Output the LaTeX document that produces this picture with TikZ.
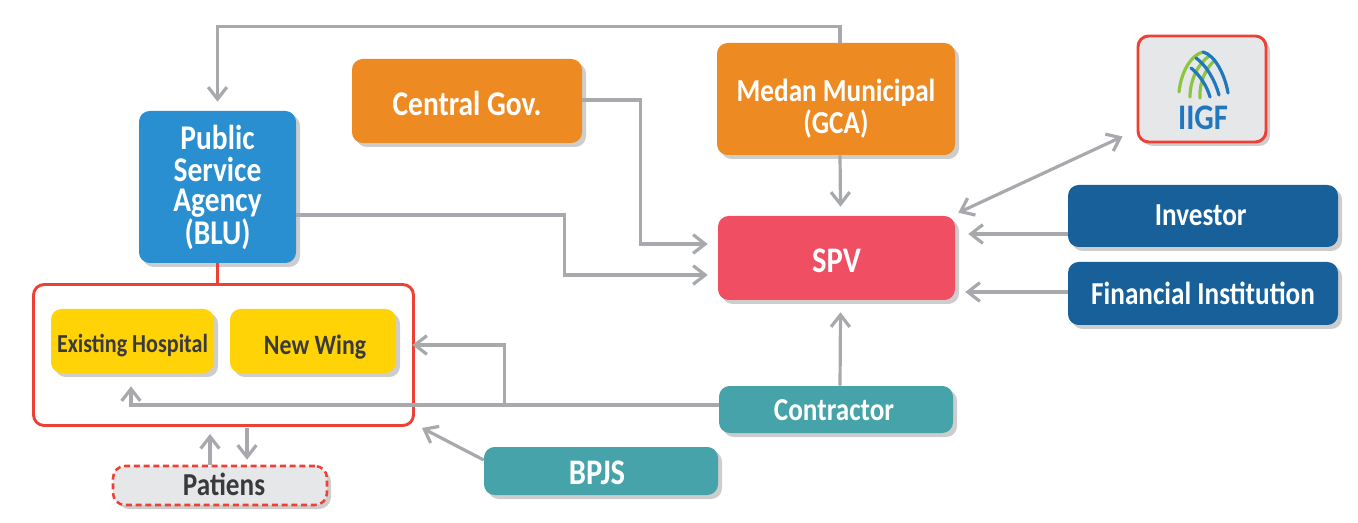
\documentclass[tikz,border=0pt]{standalone}
\usepackage{fontspec}
\setmainfont{Carlito}
\newfontfamily\condfont[FakeStretch=0.85]{Carlito}
\usetikzlibrary{arrows.meta,shadows,calc}
\definecolor{arrowgray}{HTML}{A7A9AC}
\definecolor{bluea}{HTML}{2A8FD0}
\definecolor{orangea}{HTML}{EE8A22}
\definecolor{pinka}{HTML}{F04E63}
\definecolor{navya}{HTML}{17609A}
\definecolor{teala}{HTML}{45A3A9}
\definecolor{yellowa}{HTML}{FFD305}
\definecolor{reda}{HTML}{EE4135}
\definecolor{palea}{HTML}{E6E7E9}
\definecolor{inka}{HTML}{3A3A3C}
\definecolor{greena}{HTML}{8CC540}
\definecolor{logoblue}{HTML}{1F78BE}
% #1 horizontal shift, #2 vertical drop from the box centre, #3 text lines
\newcommand{\lbl}[3]{\hspace*{#1}\raisebox{\dimexpr-#2-0.25em-2.6pt\relax}[0pt][0pt]{\begin{tabular}{@{}c@{}}#3\end{tabular}}}
\newcommand{\fsz}[2]{\fontsize{#1}{#2}\selectfont\condfont\bfseries}
\tikzset{
  softshadow/.style={drop shadow={shadow xshift=3pt,shadow yshift=-3pt,opacity=.28,fill=black!70}},
  boxa/.style={rectangle,rounded corners=8pt,inner sep=0pt,align=center,softshadow,text=white},
  flow/.style={draw=arrowgray,line width=2.4pt,-{Straight Barb[length=9pt,width=14pt,line width=2.4pt]}},
  flowboth/.style={draw=arrowgray,line width=2.4pt,{Straight Barb[length=9pt,width=14pt,line width=2.4pt]}-{Straight Barb[length=9pt,width=14pt,line width=2.4pt]}},
}
\begin{document}
\begin{tikzpicture}[x=0.75pt,y=-0.75pt]
\useasboundingbox (0,0) rectangle (1358,523);
\node[rectangle,rounded corners=8pt,draw=reda,line width=2.2pt,minimum width=380*0.75pt,minimum height=141*0.75pt,inner sep=0pt] (group) at (223.5,355) {};
\node[boxa,fill=bluea,minimum width=157*0.75pt,minimum height=152*0.75pt] (psa) at (217.5,187) {\fsz{26}{24}\lbl{0pt}{-0.7pt}{Public\\[-1.5pt]Service\\[-1.5pt]Agency\\[-1.5pt](BLU)}};
\node[boxa,fill=orangea,minimum width=230*0.75pt,minimum height=84*0.75pt] (central) at (467,101) {\fsz{26}{28}\lbl{0pt}{2.2pt}{Central Gov.}};
\node[boxa,fill=orangea,minimum width=238*0.75pt,minimum height=112*0.75pt] (medan) at (836,99) {\fsz{24}{24}\lbl{0pt}{6.7pt}{Medan Municipal\\[-0.7pt](GCA)}};
\node[boxa,fill=palea,draw=reda,line width=2.2pt,minimum width=128*0.75pt,minimum height=106*0.75pt] (iigf) at (1202,89) {};
\node[boxa,fill=pinka,minimum width=237*0.75pt,minimum height=84*0.75pt] (spv) at (836.5,258) {\fsz{27}{28}\lbl{0pt}{2.2pt}{SPV}};
\node[boxa,fill=navya,minimum width=270*0.75pt,minimum height=62*0.75pt] (investor) at (1203,216) {\fsz{24}{28}\lbl{-3.5pt}{-0.7pt}{Investor}};
\node[boxa,fill=navya,minimum width=270*0.75pt,minimum height=63*0.75pt] (fin) at (1203,293.5) {\fsz{24}{28}\lbl{0pt}{0.4pt}{Financial Institution}};
\node[boxa,fill=teala,minimum width=234*0.75pt,minimum height=47*0.75pt] (contractor) at (836,409.5) {\fsz{24}{28}\lbl{-3pt}{0.4pt}{Contractor}};
\node[boxa,fill=teala,minimum width=234*0.75pt,minimum height=48*0.75pt] (bpjs) at (601,471) {\fsz{27}{28}\lbl{-6pt}{1.5pt}{BPJS}};
\node[boxa,fill=yellowa,text=inka,minimum width=163*0.75pt,minimum height=64*0.75pt] (existing) at (132.5,341) {\fsz{19.5}{22}\lbl{0pt}{2.2pt}{Existing Hospital}};
\node[boxa,fill=yellowa,text=inka,minimum width=166*0.75pt,minimum height=64*0.75pt] (newwing) at (313,341) {\fsz{21}{24}\lbl{3pt}{3pt}{New Wing}};
\node[boxa,fill=palea,text=inka,draw=reda,dash pattern=on 4.5pt off 2.8pt,line width=1.9pt,rounded corners=9pt,minimum width=214*0.75pt,minimum height=39*0.75pt] (patiens) at (220,485.5) {\fsz{24}{26}\lbl{6pt}{-0.4pt}{Patiens}};
% logo
\begin{scope}[line width=2.4pt,line cap=round]
  \draw[greena] (1179,92) .. controls (1181,72) and (1191,55) .. (1203,52);
  \draw[greena] (1200,98) .. controls (1199,82) and (1206,68) .. (1215,60);
  \draw[greena] (1190,97) .. controls (1190,80) and (1198,64) .. (1209,56);
  \draw[logoblue] (1228,93) .. controls (1225,75) and (1215,55) .. (1203,52);
  \draw[logoblue] (1219,95) .. controls (1215,80) and (1206,65) .. (1196,58);
  \draw[logoblue] (1210,97) .. controls (1207,86) and (1199,74) .. (1191,68);
\end{scope}
\node[inner sep=0pt,text=logoblue,font=\fsz{27}{28}] (iigftext) at (1203,118) {IIGF};
% connectors
\coordinate (psatop) at ($(psa.north)+(0,-9)$);
\coordinate (medantop) at ($(medan.north)+(4,0)$);
\coordinate (medanbot) at ($(medan.south)+(4,0)$);
\draw[flow] (medantop) -- ++(0,-16) -| (psatop);
\coordinate (spvA) at ($(spv.west)+(-10,-14)$);
\coordinate (spvB) at ($(spv.west)+(-10,17)$);
\draw[flow] ($(central.east)+(0,-1)$) -- ++(58,0) |- (spvA);
\draw[flow] ($(psa.east)+(0,28)$) -- ++(268,0) |- (spvB);
\draw[flow] (medanbot) -- ($(spv.north)+(4,-9)$);
\draw[flowboth] ($(iigf.south west)+(-14,-7)$) -- ($(spv.north east)+(3,-3)$);
\draw[flow] ($(investor.west)+(0,18)$) -- ($(spv.east)+(13,-24)$);
\draw[flow] ($(fin.west)+(0,-1.5)$) -- ($(spv.east)+(10,34)$);
\draw[flow] ($(contractor.north)+(4,0)$) -- ($(spv.south)+(4,12)$);
\coordinate (branch) at ($(contractor.west)+(-214,-4.5)$);
\draw[flow] ($(contractor.west)+(0,-4.5)$) -| ($(existing.south)+(-1.5,13)$);
\draw[flow] (branch) |- ($(newwing.east)+(16,4)$);
\draw[flow] ($(bpjs.west)+(0,-11)$) -- ($(group.south east)+(7,1)$);
\draw[flow] ($(patiens.north)+(-10,0)$) -- ($(group.south)+(-13.5,7)$);
\draw[flow] ($(group.south)+(23.5,1)$) -- ($(patiens.north)+(27,-5)$);
\draw[draw=reda,line width=2.4pt] (psa.south) -- (group.north -| psa.south);
\end{tikzpicture}
\end{document}
